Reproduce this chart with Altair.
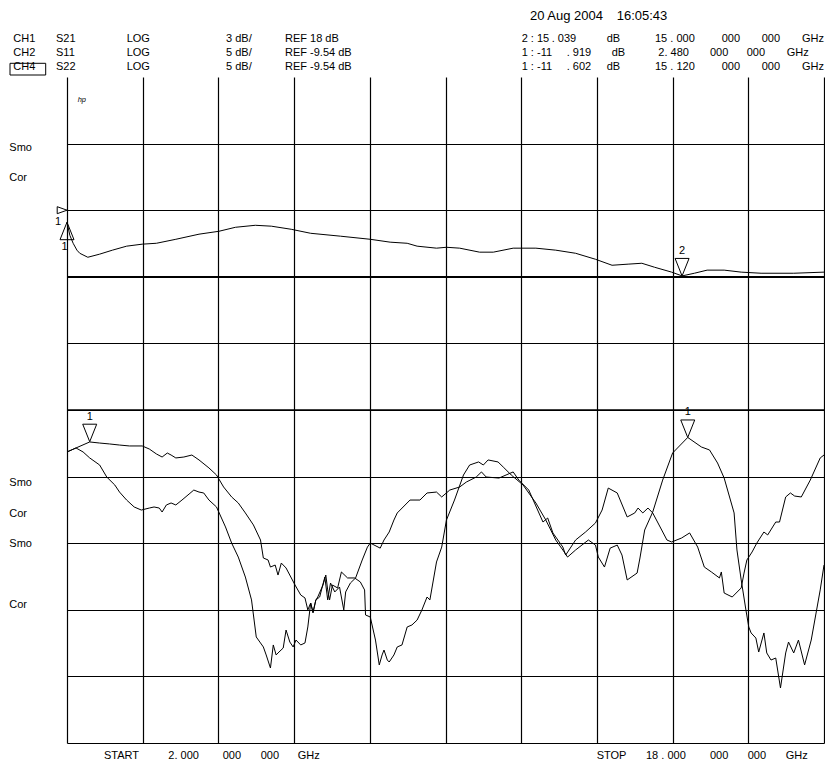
import altair as alt
import pandas as pd

FONT = "Liberation Sans"

# ---------------- instrument settings ----------------
START_GHZ, STOP_GHZ = 2.0, 18.0
N_XDIV, N_YDIV = 10, 10

# ---------------- trace data (GHz, dB) ----------------
# CH1  S21  LOG 3 dB/  REF 18 dB (reference at division 8)
s21_f = [2.00, 2.06, 2.13, 2.21, 2.27, 2.44, 2.69, 2.96, 3.26, 3.59,
         3.89, 4.30, 4.79, 5.21, 5.56, 5.98, 6.32, 6.74, 7.15, 7.78,
         8.41, 8.83, 9.19, 9.40, 9.81, 10.02, 10.30, 10.72, 11.01, 11.43,
         11.91, 12.33, 12.75, 13.17, 13.52, 13.86, 14.15, 14.42, 14.78, 15.00,
         15.26, 15.53, 15.89, 16.25, 16.67, 17.36, 18.00]
s21_db = [17.46, 16.87, 16.51, 16.20, 16.06, 15.88, 16.02, 16.20, 16.38, 16.47,
          16.51, 16.69, 16.92, 17.05, 17.23, 17.32, 17.28, 17.14, 16.96, 16.83,
          16.69, 16.56, 16.51, 16.38, 16.29, 16.33, 16.29, 16.11, 16.11, 16.29,
          16.29, 16.20, 16.06, 15.79, 15.52, 15.57, 15.61, 15.43, 15.21, 15.04,
          15.16, 15.30, 15.30, 15.21, 15.16, 15.16, 15.21]

# CH2  S11  LOG 5 dB/  REF -9.54 dB (reference at division 5)
s11_f = [2.00, 2.19, 2.48, 2.69, 2.90, 3.11, 3.32, 3.59, 3.74, 3.89,
         4.01, 4.12, 4.20, 4.30, 4.47, 4.64, 4.79, 5.00, 5.16, 5.31,
         5.48, 5.62, 5.77, 5.94, 6.09, 6.15, 6.25, 6.30, 6.40, 6.46,
         6.53, 6.63, 6.82, 6.94, 7.03, 7.09, 7.15, 7.20, 7.26, 7.34,
         7.45, 7.51, 7.57, 7.66, 7.76, 7.85, 7.89, 7.99, 8.10, 8.24,
         8.35, 8.41, 8.62, 8.70, 8.81, 8.91, 8.98, 9.25, 9.46, 9.61,
         9.81, 9.92, 10.09, 10.30, 10.44, 10.65, 10.76, 10.86, 11.13, 11.28,
         11.43, 11.55, 11.76, 12.06, 12.16, 12.27, 12.48, 12.54, 12.75, 12.96,
         13.17, 13.31, 13.44, 13.63, 13.84, 14.00, 14.07, 14.17, 14.28, 14.38,
         14.57, 14.68, 14.78, 14.99, 15.16, 15.33, 15.47, 15.62, 15.79, 15.83,
         15.89, 16.06, 16.25, 16.31, 16.37, 16.48, 16.58, 16.73, 16.81, 16.98,
         17.06, 17.19, 17.29, 17.38, 17.52, 17.71, 17.92, 18.00]
s11_db = [-12.69, -12.39, -11.94, -12.02, -12.09, -12.17, -12.24, -12.24, -12.47, -12.84,
          -13.07, -12.77, -12.92, -13.14, -13.07, -12.92, -13.29, -13.89, -14.42, -15.32,
          -16.07, -16.52, -17.27, -18.17, -19.30, -20.65, -20.80, -21.33, -21.18, -21.93,
          -21.03, -21.40, -22.68, -23.43, -23.65, -24.55, -24.03, -24.78, -23.80, -23.58,
          -22.08, -23.80, -22.53, -23.20, -22.83, -24.55, -23.20, -22.53, -22.15, -20.80,
          -19.83, -19.53, -19.91, -19.30, -18.70, -17.80, -17.27, -16.30, -16.30, -15.77,
          -15.70, -16.07, -15.55, -15.32, -14.95, -14.57, -14.19, -14.57, -14.65, -14.42,
          -14.19, -14.80, -15.55, -17.95, -17.65, -18.77, -19.83, -20.43, -19.30, -18.70,
          -18.02, -17.05, -15.40, -15.77, -17.57, -17.27, -16.90, -17.27, -16.90, -17.27,
          -18.55, -19.30, -19.45, -19.15, -18.77, -19.83, -21.33, -21.70, -22.15, -21.70,
          -23.28, -23.58, -22.90, -21.78, -20.80, -20.20, -19.53, -18.70, -18.92, -17.95,
          -17.95, -16.07, -15.77, -16.00, -16.07, -14.80, -13.14, -12.92]

# CH4  S22  LOG 5 dB/  REF -9.54 dB (reference at division 5)
s22_f = [2.00, 2.19, 2.34, 2.48, 2.69, 2.84, 3.01, 3.11, 3.26, 3.42,
         3.57, 3.74, 3.84, 3.95, 4.01, 4.10, 4.20, 4.30, 4.43, 4.58,
         4.68, 4.79, 4.89, 5.00, 5.16, 5.35, 5.48, 5.62, 5.77, 5.90,
         6.00, 6.09, 6.15, 6.21, 6.30, 6.36, 6.42, 6.46, 6.57, 6.63,
         6.71, 6.78, 6.84, 6.94, 7.03, 7.09, 7.15, 7.20, 7.26, 7.30,
         7.41, 7.47, 7.51, 7.55, 7.61, 7.72, 7.80, 7.93, 8.08, 8.20,
         8.29, 8.31, 8.41, 8.52, 8.60, 8.66, 8.70, 8.77, 8.81, 8.91,
         8.98, 9.08, 9.19, 9.29, 9.40, 9.50, 9.61, 9.67, 9.81, 9.92,
         10.02, 10.19, 10.38, 10.51, 10.70, 10.80, 10.90, 11.11, 11.22, 11.39,
         11.64, 11.91, 12.12, 12.33, 12.48, 12.58, 12.75, 13.02, 13.17, 13.23,
         13.36, 13.48, 13.63, 13.73, 13.84, 14.05, 14.11, 14.21, 14.38, 14.59,
         14.80, 15.12, 15.41, 15.58, 15.75, 15.89, 16.10, 16.16, 16.25, 16.35,
         16.41, 16.46, 16.56, 16.62, 16.73, 16.79, 16.88, 16.98, 17.08, 17.19,
         17.25, 17.36, 17.46, 17.59, 17.73, 17.92, 18.00]
s22_db = [-12.69, -12.39, -12.69, -13.14, -13.67, -14.57, -15.17, -15.70, -16.30, -16.82,
          -17.05, -16.90, -16.82, -16.90, -17.20, -16.67, -16.52, -16.67, -16.30, -15.85,
          -15.55, -15.70, -15.77, -16.30, -16.82, -18.32, -19.53, -20.58, -22.08, -23.80,
          -26.58, -27.03, -27.33, -27.93, -28.91, -27.18, -27.93, -27.78, -27.41, -26.06,
          -26.96, -27.33, -26.81, -27.18, -27.03, -25.83, -24.03, -24.70, -23.80, -23.58,
          -22.68, -21.93, -23.05, -23.80, -22.68, -22.90, -21.70, -22.15, -22.15, -22.45,
          -23.05, -24.93, -25.08, -26.81, -28.68, -27.93, -27.56, -28.31, -28.46, -27.93,
          -27.33, -27.18, -25.83, -25.68, -25.31, -24.56, -23.58, -23.80, -20.95, -19.83,
          -17.80, -16.30, -14.42, -13.67, -13.44, -13.67, -13.29, -13.44, -13.82, -14.42,
          -15.17, -16.52, -17.80, -19.30, -20.05, -20.58, -20.05, -19.30, -19.68, -20.58,
          -21.33, -19.91, -19.68, -20.43, -22.30, -21.78, -20.65, -18.55, -17.20, -14.80,
          -12.77, -11.60, -12.32, -12.54, -13.52, -14.65, -17.27, -20.05, -22.30, -24.56,
          -25.83, -26.28, -26.66, -27.71, -26.28, -27.78, -28.31, -28.16, -30.41, -27.78,
          -26.96, -27.78, -26.81, -28.68, -26.81, -23.05, -21.18]

# channel scaling: (ref dB, dB per division, reference division)
channels = {
    "S21": (s21_f, s21_db, 18.0, 3.0, 8),
    "S11": (s11_f, s11_db, -9.54, 5.0, 5),
    "S22": (s22_f, s22_db, -9.54, 5.0, 5),
}

# markers (active readouts)
mk_trace = ["S21", "S11", "S22"]
mk_f = [15.000, 2.480, 15.120]
mk_db = [15.039, -11.919, -11.602]
mk_label = ["2", "1", "1"]
# CH1 reference marker at start, CH1 reference level indicator
ref_mk_f, ref_mk_db = [2.0], [17.46]
ref_lvl_f, ref_lvl_db = [2.0], [18.0]

# ---------------- texts ----------------
date_texts = ["20 Aug 2004", "16:05:43"]
hdr_left = [["CH1", "S21", "LOG", "3 dB/", "REF 18 dB"],
            ["CH2", "S11", "LOG", "5 dB/", "REF -9.54 dB"],
            ["CH4", "S22", "LOG", "5 dB/", "REF -9.54 dB"]]
hdr_right = [["2 : 15", ". 039", "dB", "15 . 000", "000", "000", "GHz"],
             ["1 : -11", ". 919", "dB", "2. 480", "000", "000", "GHz"],
             ["1 : -11", ". 602", "dB", "15 . 120", "000", "000", "GHz"]]
foot_start = ["START", "2. 000", "000", "000", "GHz"]
foot_stop = ["STOP", "18 . 000", "000", "000", "GHz"]
side_texts = ["Smo", "Cor", "Smo", "Cor", "Smo", "Cor"]

# ---------------- layout (page pixels) ----------------
OX, OY = 67.0, 77.0           # plot origin on the page
W, H = 757.0, 666.0
hdr_left_x = [13.3, 56, 126.7, 226, 285]
hdr_right_x = [[521.7, 551.7, 606.7, 655, 721.7, 761.7, 802],
               [521.7, 566.7, 611.7, 658.3, 710, 746.7, 786.7],
               [521.7, 566.7, 606.7, 655, 721.7, 761.7, 802]]
hdr_y = [41.7, 55.7, 70.0]
foot_start_x = [104, 168.3, 222.7, 260.7, 297.7]
foot_stop_x = [596.7, 646, 710, 747.7, 785.7]
foot_y = 759.0
side_y = [151.3, 181.3, 485.7, 516.7, 547.3, 608]

lab = []
def put(t, px, py, size=11):
    lab.append({"t": t, "x": px - OX, "y": py - OY, "s": size})

for t, px in zip(date_texts, [530, 616.7]):
    put(t, px, 20, 13)
for row, py in zip(hdr_left, hdr_y):
    for t, px in zip(row, hdr_left_x):
        put(t, px, py)
for row, xs, py in zip(hdr_right, hdr_right_x, hdr_y):
    for t, px in zip(row, xs):
        put(t, px, py)
for t, px in zip(foot_start, foot_start_x):
    put(t, px, foot_y)
for t, px in zip(foot_stop, foot_stop_x):
    put(t, px, foot_y)
for t, py in zip(side_texts, side_y):
    put(t, 9.3, py)
lab_df = pd.DataFrame(lab)

# ---------------- build data ----------------
def to_div(db, ref, per, pos):
    return pos + (db - ref) / per

rows = []
for name, (fs, dbs, ref, per, pos) in channels.items():
    assert len(fs) == len(dbs), name
    for i, (f, d) in enumerate(zip(fs, dbs)):
        rows.append({"trace": name, "i": i, "f": f, "div": to_div(d, ref, per, pos)})
df = pd.DataFrame(rows)

mk_df = pd.DataFrame({
    "f": mk_f,
    "div": [to_div(d, *channels[t][2:]) for t, d in zip(mk_trace, mk_db)],
    "label": mk_label,
})
s21_scale = channels["S21"][2:]
refmk_df = pd.DataFrame({"f": ref_mk_f, "div": [to_div(d, *s21_scale) for d in ref_mk_db], "label": ["1"]})
reflvl_df = pd.DataFrame({"f": ref_lvl_f, "div": [to_div(d, *s21_scale) for d in ref_lvl_db], "label": ["1"]})

# ---------------- scales / axes ----------------
xscale = alt.Scale(domain=[START_GHZ, STOP_GHZ], nice=False, zero=False)
yscale = alt.Scale(domain=[0, N_YDIV], nice=False, zero=False)
xgrid = [round(START_GHZ + (STOP_GHZ - START_GHZ) * k / N_XDIV, 6) for k in range(N_XDIV + 1)]
ygrid = list(range(N_YDIV))
gridkw = dict(grid=True, gridColor="black", gridWidth=1.2, gridOpacity=1,
              labels=False, ticks=False, domain=False, title=None)
X = alt.X("f:Q", scale=xscale, axis=alt.Axis(values=xgrid, **gridkw))
Y = alt.Y("div:Q", scale=yscale, axis=alt.Axis(values=ygrid, **gridkw))
Xn = alt.X("f:Q", scale=xscale)
Yn = alt.Y("div:Q", scale=yscale)

traces = alt.Chart(df).mark_line(color="black", strokeWidth=1, interpolate="linear").encode(
    x=X, y=Y, detail="trace:N", order="i:Q")

thick = alt.Chart(pd.DataFrame({"div": [5, 7]})).mark_rule(color="black", strokeWidth=1.5).encode(y=Yn)

down_tri = alt.Chart(mk_df).mark_point(
    shape="M -1 -2.5 L 1 -2.5 L 0 0 Z", size=196, filled=False,
    color="black", strokeWidth=1, opacity=1).encode(x=Xn, y=Yn)
down_lbl = alt.Chart(mk_df).mark_text(dy=-25, font=FONT, fontSize=11, fill="black").encode(
    x=Xn, y=Yn, text="label:N")

up_tri = alt.Chart(refmk_df).mark_point(
    shape="M 0 0 L 1 2.5 L -1 2.5 Z", size=196, filled=False,
    color="black", strokeWidth=1, opacity=1).encode(x=Xn, y=Yn)
up_lbl = alt.Chart(refmk_df).mark_text(dx=-2.5, dy=25, font=FONT, fontSize=11, fill="black").encode(
    x=Xn, y=Yn, text="label:N")

ref_arrow = alt.Chart(reflvl_df).mark_point(
    shape="M -1.4 -0.5 L 0 0 L -1.4 0.5 Z", size=196, filled=False,
    color="black", strokeWidth=1, opacity=1).encode(x=Xn, y=Yn)
ref_lbl = alt.Chart(reflvl_df).mark_text(dx=-9, dy=12, font=FONT, fontSize=11, fill="black").encode(
    x=Xn, y=Yn, text="label:N")

texts = alt.Chart(lab_df).mark_text(align="left", baseline="alphabetic", font=FONT, fill="black").encode(
    x=alt.X("x:Q", scale=None), y=alt.Y("y:Q", scale=None), text="t:N",
    size=alt.Size("s:Q", scale=None, legend=None))

box = alt.Chart(pd.DataFrame({"a": [0]})).mark_rect(fillOpacity=0, stroke="black", strokeWidth=1).encode(
    x=alt.value(10 - OX), x2=alt.value(45.7 - OX), y=alt.value(63.3 - OY), y2=alt.value(75 - OY))

hp = alt.Chart(pd.DataFrame({"a": [0]})).mark_text(
    align="left", baseline="alphabetic", font=FONT, fontSize=7.5, fontStyle="italic", fill="black").encode(
    x=alt.value(77.7 - OX), y=alt.value(101.5 - OY), text=alt.value("hp"))

chart = alt.layer(
    traces, thick, down_tri, down_lbl, up_tri, up_lbl, ref_arrow, ref_lbl, texts, box, hp
).properties(
    width=W, height=H, autosize="none",
    padding={"left": OX - 8, "top": OY - 8, "right": 1, "bottom": 17},
    background="white",
).configure_view(strokeWidth=0)

chart.save("out.html", embed_options={"renderer": "svg", "actions": False})
